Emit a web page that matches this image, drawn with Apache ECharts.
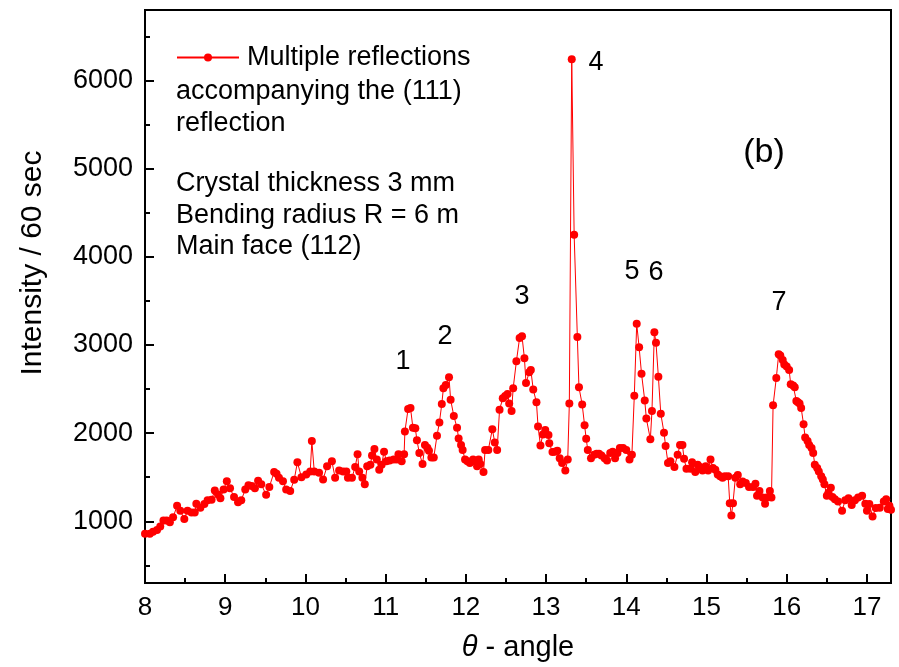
<!DOCTYPE html>
<html>
<head>
<meta charset="utf-8">
<script src="https://cdn.jsdelivr.net/npm/echarts@6/dist/echarts.min.js"></script>
<style>
  html, body { margin: 0; padding: 0; background: #fff; }
  #chart { width: 899px; height: 667px; }
</style>
</head>
<body>
<div id="chart"></div>
<script>
// Scan angle (degrees) and counts per 60 s for each measured point
const theta = [
  8.00, 8.06, 8.10, 8.15, 8.19, 8.23, 8.27, 8.31, 8.35, 8.40,
  8.44, 8.49, 8.53, 8.58, 8.62, 8.64, 8.69, 8.74, 8.78, 8.83,
  8.87, 8.91, 8.94, 8.98, 9.02, 9.06, 9.11, 9.16, 9.20, 9.25,
  9.29, 9.33, 9.37, 9.41, 9.45, 9.51, 9.55, 9.61, 9.64, 9.67,
  9.72, 9.76, 9.81, 9.86, 9.90, 9.95, 10.01, 10.06, 10.08, 10.11,
  10.17, 10.22, 10.27, 10.33, 10.37, 10.42, 10.47, 10.51, 10.53, 10.58,
  10.62, 10.65, 10.67, 10.71, 10.74, 10.77, 10.81, 10.83, 10.86, 10.89,
  10.92, 10.95, 10.98, 11.01, 11.05, 11.10, 11.14, 11.16, 11.20, 11.23,
  11.24, 11.28, 11.31, 11.34, 11.37, 11.39, 11.42, 11.46, 11.49, 11.52,
  11.54, 11.57, 11.60, 11.64, 11.67, 11.70, 11.72, 11.75, 11.79, 11.81,
  11.85, 11.89, 11.91, 11.94, 11.96, 11.99, 12.02, 12.05, 12.09, 12.11,
  12.14, 12.16, 12.18, 12.22, 12.24, 12.28, 12.33, 12.36, 12.39, 12.42,
  12.46, 12.49, 12.52, 12.54, 12.57, 12.59, 12.63, 12.67, 12.70, 12.73,
  12.75, 12.79, 12.81, 12.84, 12.88, 12.90, 12.93, 12.96, 12.99, 13.03,
  13.04, 13.08, 13.11, 13.14, 13.17, 13.20, 13.24, 13.27, 13.29, 13.32,
  13.35, 13.39, 13.41, 13.45, 13.48, 13.50, 13.52, 13.56, 13.60, 13.63,
  13.66, 13.69, 13.73, 13.76, 13.80, 13.83, 13.86, 13.89, 13.92, 13.96,
  14.00, 14.04, 14.07, 14.10, 14.13, 14.16, 14.19, 14.23, 14.25, 14.30,
  14.32, 14.35, 14.37, 14.40, 14.43, 14.47, 14.49, 14.52, 14.55, 14.60,
  14.64, 14.67, 14.70, 14.72, 14.75, 14.80, 14.82, 14.86, 14.89, 14.92,
  14.95, 14.99, 15.02, 15.05, 15.08, 15.11, 15.14, 15.17, 15.20, 15.23,
  15.27, 15.29, 15.31, 15.33, 15.36, 15.39, 15.42, 15.45, 15.49, 15.53,
  15.58, 15.61, 15.63, 15.66, 15.70, 15.73, 15.75, 15.79, 15.81, 15.83,
  15.87, 15.90, 15.92, 15.95, 15.97, 16.00, 16.03, 16.05, 16.08, 16.10,
  16.12, 16.14, 16.16, 16.18, 16.21, 16.23, 16.26, 16.28, 16.31, 16.33,
  16.35, 16.38, 16.40, 16.43, 16.45, 16.47, 16.50, 16.52, 16.55, 16.57,
  16.60, 16.64, 16.69, 16.73, 16.77, 16.81, 16.85, 16.89, 16.94, 16.98,
  17.00, 17.03, 17.07, 17.11, 17.16, 17.21, 17.24, 17.26, 17.28, 17.30
];

const counts = [
  860, 860, 880, 900, 940, 1010, 1010, 990, 1045, 1175,
  1120, 1025, 1120, 1100, 1100, 1200, 1155, 1195, 1240, 1245,
  1350, 1305, 1260, 1360, 1455, 1375, 1275, 1215, 1240, 1360,
  1410, 1400, 1375, 1460, 1420, 1300, 1390, 1560, 1540, 1495,
  1455, 1360, 1345, 1470, 1670, 1500, 1530, 1565, 1910, 1565,
  1550, 1475, 1625, 1680, 1495, 1575, 1565, 1565, 1495, 1495,
  1615, 1760, 1565, 1495, 1420, 1625, 1640, 1745, 1820, 1700,
  1585, 1640, 1790, 1680, 1690, 1700, 1700, 1760, 1680, 1760,
  2020, 2275, 2285, 2060, 2055, 1920, 1775, 1650, 1865, 1835,
  1800, 1725, 1725, 1970, 2120, 2330, 2510, 2545, 2635, 2380,
  2195, 2060, 1940, 1865, 1810, 1700, 1680, 1660, 1700, 1680,
  1625, 1700, 1650, 1560, 1810, 1810, 2045, 1895, 1810, 2265,
  2395, 2420, 2445, 2335, 2250, 2510, 2815, 3080, 3100, 2850,
  2570, 2690, 2715, 2495, 2350, 2075, 1860, 1985, 2035, 1980,
  1885, 1785, 1790, 1800, 1715, 1660, 1575, 1700, 2335, 6240,
  4250, 3090, 2520, 2325, 2090, 1935, 1810, 1715, 1755, 1765,
  1765, 1745, 1715, 1690, 1775, 1790, 1715, 1775, 1830, 1830,
  1810, 1700, 1755, 2425, 3240, 2975, 2675, 2370, 2165, 1930,
  2250, 3145, 3025, 2640, 2220, 2005, 1855, 1660, 1680, 1615,
  1755, 1865, 1865, 1710, 1595, 1595, 1670, 1560, 1640, 1615,
  1575, 1625, 1575, 1700, 1605, 1585, 1530, 1510, 1495, 1510,
  1510, 1205, 1065, 1205, 1495, 1525, 1420, 1450, 1435, 1390,
  1390, 1425, 1290, 1345, 1270, 1200, 1270, 1345, 1270, 2315,
  2625, 2895, 2880, 2830, 2780, 2755, 2715, 2555, 2540, 2520,
  2365, 2350, 2335, 2285, 2100, 1950, 1910, 1865, 1830, 1775,
  1640, 1605, 1565, 1510, 1475, 1420, 1290, 1325, 1380, 1275,
  1250, 1225, 1120, 1240, 1260, 1185, 1240, 1270, 1290, 1200,
  1120, 1195, 1055, 1150, 1155, 1225, 1250, 1140, 1175, 1130
];

const seriesName = 'Multiple reflections';
const legendLines = ['accompanying the (111)', 'reflection'];
const sampleInfo = ['Crystal thickness 3 mm', 'Bending radius R = 6 m', 'Main face (112)'];
const peakNames = ['1', '2', '3', '4', '5', '6', '7'];
const panelTag = '(b)';
const xTitle = '{t|\u03b8} - angle';
const yTitle = 'Intensity / 60 sec';

const FONT = '"Liberation Sans", Arial, Helvetica, sans-serif';
const RED = '#ff0000';

function label(x, y, text, size, align) {
  return {
    type: 'text', x: x, y: y, silent: true,
    style: { text: text, fontSize: size, fontFamily: FONT, fill: '#000',
             align: align || 'left', verticalAlign: 'middle' }
  };
}

// annotation placement (pixels)
const peakSpots = [[403, 362], [445, 337], [522, 297], [596, 63], [632, 272], [656, 273], [779, 303]];

const graphics = [];
legendLines.forEach((s, i) => graphics.push(label(176, 92 + i * 32, s, 27)));
sampleInfo.forEach((s, i) => graphics.push(label(176, 184 + i * 31.5, s, 27)));
peakNames.forEach((s, i) => graphics.push(label(peakSpots[i][0], peakSpots[i][1], s, 27, 'center')));
graphics.push(label(764, 153, panelTag, 34, 'center'));
graphics.push({
  type: 'text', x: 33, y: 263, rotation: Math.PI / 2, silent: true,
  style: { text: yTitle, fontSize: 30, fontFamily: FONT, fill: '#000',
           align: 'center', verticalAlign: 'middle' }
});

const chart = echarts.init(document.getElementById('chart'), null, { renderer: 'canvas' });
chart.setOption({
  animation: false,
  backgroundColor: '#fff',
  grid: {
    left: 145, right: 8, top: 10, bottom: 81,
    show: true, borderColor: '#000', borderWidth: 2, backgroundColor: 'transparent'
  },
  legend: {
    left: 176, top: 44, padding: 0,
    itemWidth: 62, itemHeight: 10,
    selectedMode: false,
    textStyle: { fontSize: 27, fontFamily: FONT, color: '#000', padding: [0, 0, 0, 3] },
    data: [seriesName]
  },
  xAxis: {
    type: 'value', min: 8, max: 17.3, interval: 1,
    name: xTitle, nameLocation: 'middle', nameGap: 50,
    nameTextStyle: {
      fontSize: 29, fontFamily: FONT, color: '#000',
      rich: { t: { fontSize: 29, fontFamily: FONT, fontStyle: 'italic', color: '#000' } }
    },
    axisLine: { show: true, onZero: false, lineStyle: { color: '#000', width: 2 } },
    axisTick: { show: true, inside: true, length: 9, lineStyle: { color: '#000', width: 2 } },
    minorTick: { show: true, splitNumber: 2, length: 5, lineStyle: { color: '#000', width: 2 } },
    axisLabel: {
      margin: 12, fontSize: 26, fontFamily: FONT, color: '#000',
      formatter: v => (Math.abs(v - Math.round(v)) < 1e-6 ? String(Math.round(v)) : '')
    },
    splitLine: { show: false }
  },
  yAxis: {
    type: 'value', min: 300, max: 6800, splitNumber: 5,
    axisLine: { show: true, onZero: false, lineStyle: { color: '#000', width: 2 } },
    axisTick: { show: true, inside: true, length: 9, lineStyle: { color: '#000', width: 2 } },
    minorTick: { show: true, splitNumber: 2, length: 5, lineStyle: { color: '#000', width: 2 } },
    axisLabel: {
      margin: 12, fontSize: 27, fontFamily: FONT, color: '#000',
      formatter: v => (v % 1000 === 0 ? String(v) : '')
    },
    splitLine: { show: false }
  },
  series: [{
    type: 'line',
    name: seriesName,
    data: theta.map((t, i) => [t, counts[i]]),
    symbol: 'circle',
    symbolSize: 8,
    showSymbol: true,
    lineStyle: { color: RED, width: 1 },
    itemStyle: { color: RED },
    emphasis: { disabled: true },
    clip: true
  }],
  graphic: graphics
});
</script>
</body>
</html>
